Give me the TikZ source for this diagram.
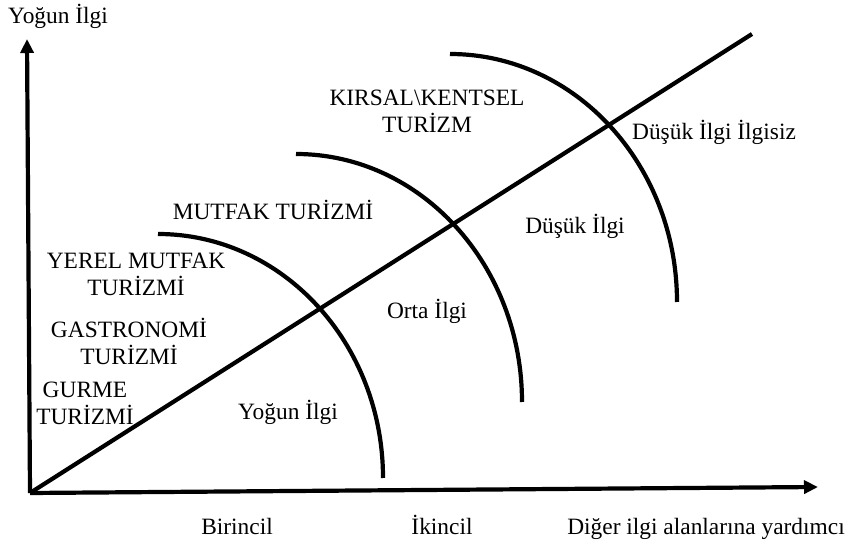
\documentclass[tikz,border=0pt]{standalone}
\usepackage{fontspec}
\setmainfont{Liberation Serif}
\usetikzlibrary{arrows.meta,positioning}

\begin{document}
\begin{tikzpicture}[x=1pt,y=-1pt,
    axis/.style={line width=4.2pt,-{Triangle[length=14pt,width=13pt]}},
    band/.style={line width=4.2pt},
    lbl/.style={inner sep=0pt,align=center,font=\fontsize{23.4}{27}\selectfont}]
    \useasboundingbox (0,0) rectangle (847,545);

    % axes
    \coordinate (o) at (30,493);
    \coordinate (ytop) at (27,39);
    \coordinate (xend) at (818,487);
    \coordinate (dend) at (752,34);
    \draw[axis] (o) -- (ytop);
    \draw[axis] (o) -- (xend);
    \draw[band] (o) -- (dend);

    % arcs
    \coordinate (a1) at (158,234);
    \coordinate (a2) at (296,154);
    \coordinate (a3) at (450,54);
    \draw[band] (a1) arc[start angle=-90,end angle=0,x radius=225,y radius=244];
    \draw[band] (a2) arc[start angle=-90,end angle=0,x radius=226,y radius=248];
    \draw[band] (a3) arc[start angle=-90,end angle=0,x radius=227,y radius=248];

    % axis labels
    \node[lbl,anchor=base west] (yl) at (8,24) {Yoğun İlgi};
    \node[lbl,anchor=base] (x1) at (237,535) {Birincil};
    \node[lbl,anchor=base] (x2) at (442,535) {İkincil};
    \node[lbl,anchor=base] (x3) at (706,535) {Diğer ilgi alanlarına yardımcı};

    % types
    \node[lbl] (kirsal) at (427,111) {KIRSAL\textbackslash KENTSEL\\TURİZM};
    \node[lbl,anchor=base] (mutfak) at (273,220) {MUTFAK TURİZMİ};
    \node[lbl] (yerel) at (136,274) {YEREL MUTFAK\\TURİZMİ};
    \node[lbl] (gastro) at (129,341) {GASTRONOMİ\\TURİZMİ};
    \node[lbl] (gurme) at (85,403) {GURME\\TURİZMİ};

    % interest levels
    \node[lbl,anchor=base] (yogun) at (288,420) {Yoğun İlgi};
    \node[lbl,anchor=base] (orta) at (427,319) {Orta İlgi};
    \node[lbl,anchor=base] (dusuk) at (575,234) {Düşük İlgi};
    \node[lbl,anchor=base] (ilgisiz) at (714,140) {Düşük İlgi İlgisiz};
\end{tikzpicture}
\end{document}
